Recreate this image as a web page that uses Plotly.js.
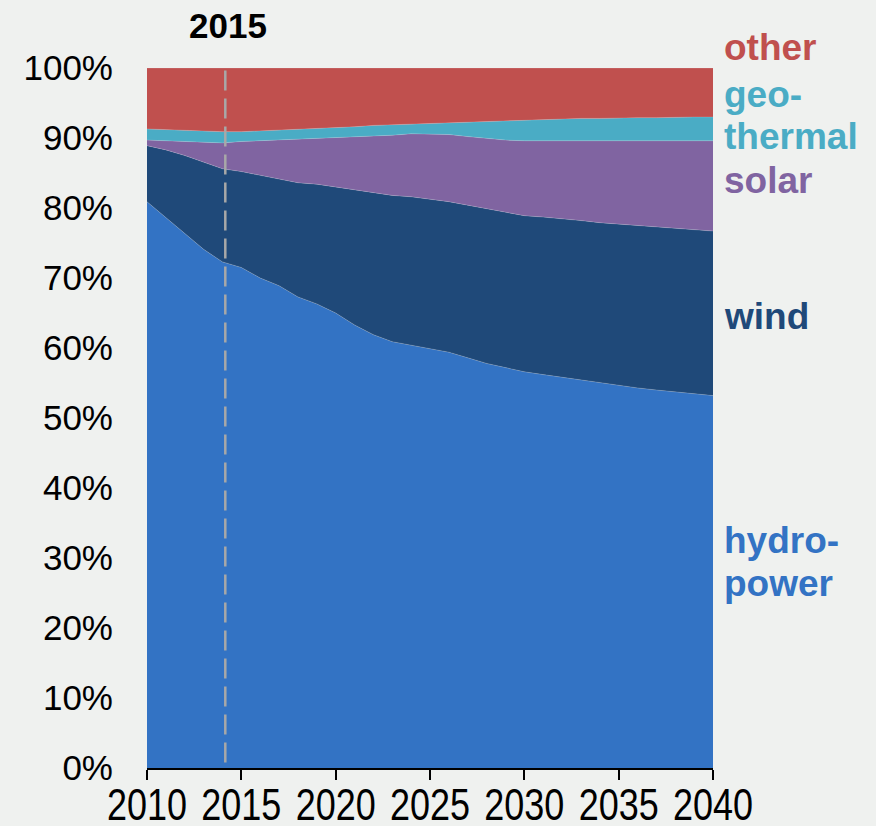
<!DOCTYPE html>
<html>
<head>
<meta charset="utf-8">
<script src="https://cdn.plot.ly/plotly-3.0.1.min.js"></script>
<style>
  html, body { margin: 0; padding: 0; background: #eff1ef; }
  #chart { width: 876px; height: 826px; }
</style>
</head>
<body>
<div id="chart"></div>
<script>
const years = [2010,2011,2012,2013,2014,2015,2016,2017,2018,2019,2020,2021,2022,2023,2024,2025,2026,2027,2028,2029,2030,2031,2032,2033,2034,2035,2036,2037,2038,2039,2040];
const hydro = [80.9,78.6,76.3,74.1,72.3,71.5,70.0,68.9,67.3,66.3,65.0,63.3,61.9,60.9,60.4,59.9,59.4,58.6,57.8,57.2,56.6,56.2,55.8,55.4,55.0,54.6,54.3,54.0,53.7,53.4,53.2];
const wind = [8.0,9.7,11.2,12.5,13.3,13.7,14.7,15.3,16.3,17.1,18.0,19.2,20.2,20.9,21.2,21.4,21.5,21.8,22.1,22.1,22.3,22.5,22.7,22.8,22.9,23.1,23.1,23.2,23.3,23.4,23.5];
const solar = [0.8,1.3,2.0,2.8,3.7,4.3,4.9,5.5,6.2,6.5,7.0,7.6,8.2,8.6,9.0,9.3,9.6,9.8,10.0,10.4,10.7,10.9,11.1,11.4,11.7,11.9,12.2,12.4,12.6,12.8,12.9];
const geothermal = [1.6,1.6,1.6,1.5,1.6,1.4,1.4,1.4,1.4,1.5,1.5,1.5,1.5,1.5,1.4,1.5,1.7,2.1,2.5,2.8,3.0,3.0,3.1,3.2,3.2,3.3,3.3,3.3,3.4,3.4,3.4];
const other = [8.7,8.8,8.9,9.1,9.1,9.1,9.0,8.9,8.8,8.6,8.5,8.4,8.2,8.1,8.0,7.9,7.8,7.7,7.6,7.5,7.4,7.4,7.3,7.2,7.2,7.1,7.1,7.1,7.0,7.0,7.0];
const seriesNames = ['hydropower','wind','solar','geothermal','other'];
const seriesLabelLines = [['hydro-','power'],['wind'],['solar'],['geo-','thermal'],['other']];
const seriesColors = ['#3373c4','#1f4979','#8064a1','#4aacc5','#c0504e'];
const xTicks = [2010,2015,2020,2025,2030,2035,2040];
const yTicks = [0,10,20,30,40,50,60,70,80,90,100];
const markerYear = 2014.15;
const markerLabel = '2015';

const seriesData = [hydro, wind, solar, geothermal, other];
const traces = seriesData.map((vals, i) => ({
  x: years, y: vals, type: 'scatter', mode: 'lines',
  stackgroup: 'one', name: seriesNames[i],
  line: {width: 0.6, color: 'rgba(220,225,235,0.35)'},
  fillcolor: seriesColors[i], hoverinfo: 'skip'
}));

// label line positions (paper y)
const labelLineY = [[0.325, 0.2629], [0.6443], [0.8393], [0.9621, 0.9021], [1.0286]];
const annotations = [];
seriesLabelLines.forEach((lines, i) => {
  lines.forEach((ln, j) => {
    annotations.push({
      xref: 'paper', yref: 'paper', x: 1, y: labelLineY[i][j], xshift: 9,
      xanchor: 'left', yanchor: 'middle', align: 'left', showarrow: false,
      text: '<b>' + ln + '</b>',
      font: {family: 'Liberation Sans, Arial, sans-serif', size: 37, color: seriesColors[i]}
    });
  });
});
annotations.push({
  xref: 'x', yref: 'paper', x: markerYear, y: 1, yshift: 43, xshift: 3,
  xanchor: 'center', yanchor: 'middle', showarrow: false,
  text: '<b>' + markerLabel + '</b>',
  font: {family: 'Liberation Sans, Arial, sans-serif', size: 35, color: '#000'}
});

const layout = {
  width: 876, height: 826,
  margin: {l: 147, r: 163, t: 68, b: 58},
  paper_bgcolor: '#eff1ef', plot_bgcolor: 'rgba(0,0,0,0)',
  showlegend: false,
  xaxis: {
    range: [2010, 2040], tickvals: xTicks, ticktext: xTicks.map(String),
    tickangle: 0,
    ticks: 'outside', ticklen: 10, tickwidth: 2, tickcolor: '#000',
    showline: true, linecolor: '#000', linewidth: 2,
    showgrid: false, zeroline: false, ticklabelstandoff: -14,
    tickfont: {family: 'Liberation Sans, Arial, sans-serif', size: 45, color: '#000'}
  },
  yaxis: {
    range: [0, 100], tickvals: yTicks, ticktext: yTicks.map(v => v + '%'),
    ticks: '', showline: false, showgrid: false, zeroline: false,
    ticklabelstandoff: 33,
    tickfont: {family: 'Liberation Sans, Arial, sans-serif', size: 35, color: '#000'}
  },
  shapes: [{
    type: 'line', xref: 'x', yref: 'y', x0: markerYear, x1: markerYear, y0: 0.8, y1: 100,
    line: {color: '#a8a8a8', width: 2.5, dash: '20px,8px'}
  }],
  annotations: annotations
};

Plotly.newPlot('chart', traces, layout, {displayModeBar: false, staticPlot: true}).then(() => {
  // condense x tick labels horizontally (reference uses a narrow face)
  document.querySelectorAll('.xtick text').forEach(t => {
    const x = parseFloat(t.getAttribute('x')) || 0;
    const y = parseFloat(t.getAttribute('y')) || 0;
    const tr = t.getAttribute('transform') || '';
    t.setAttribute('transform', tr + ` translate(${x},${y}) scale(0.8,1) translate(${-x},${-y})`);
  });
});
</script>
</body>
</html>
